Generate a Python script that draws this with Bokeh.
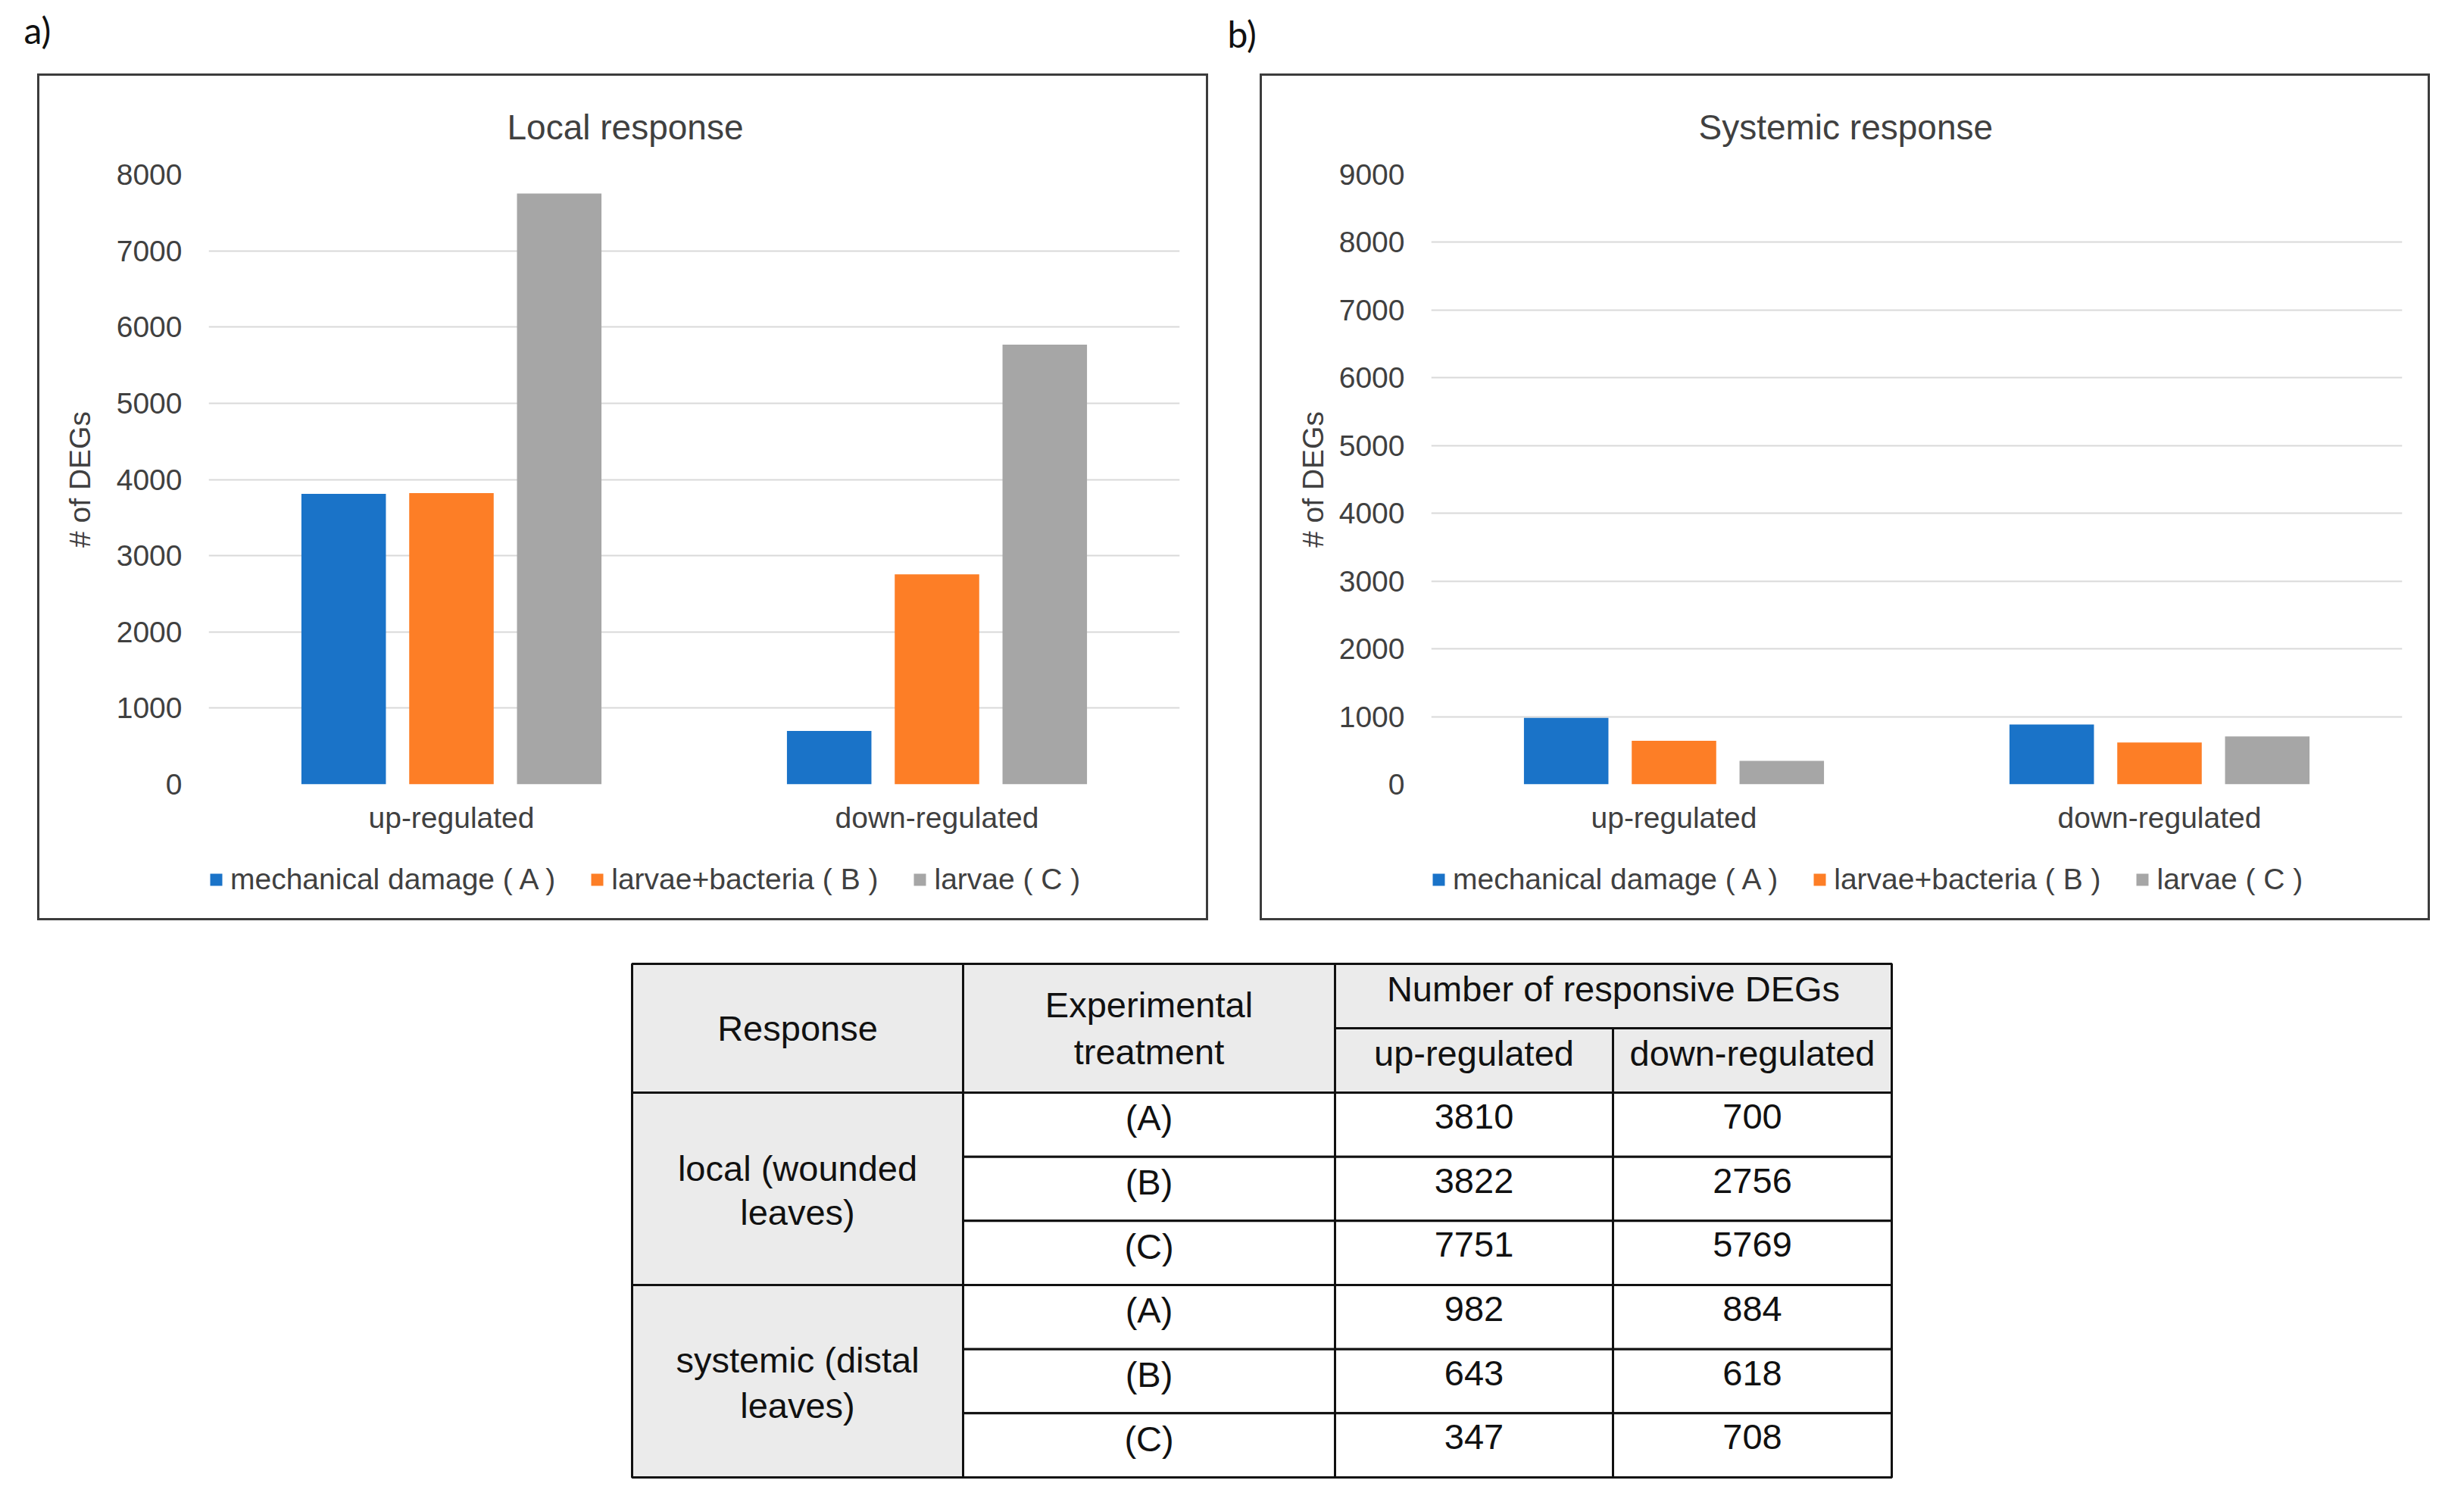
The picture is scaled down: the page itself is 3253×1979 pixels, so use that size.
from bokeh.plotting import figure
from bokeh.models import (ColumnDataSource, FactorRange, Range1d, Legend, LegendItem,
                          SingleIntervalTicker, Spacer)
from bokeh.layouts import column, row
from bokeh.transform import dodge
from bokeh.core.properties import value
from bokeh.embed import file_html
from bokeh.resources import INLINE

# ---------------- data ----------------
regulation = ["up-regulated", "down-regulated"]
treatments = ["mechanical damage ( A )", "larvae+bacteria ( B )", "larvae ( C )"]
treatment_codes = ["(A)", "(B)", "(C)"]
local_up = [3810, 3822, 7751]
local_down = [700, 2756, 5769]
systemic_up = [982, 643, 347]
systemic_down = [884, 618, 708]
local_ymax = 8000
systemic_ymax = 9000
y_step = 1000
panel_titles = ["Local response", "Systemic response"]
panel_tags = ["a)", "b)"]
y_label = "# of DEGs"
table_header = ["Response", "Experimental\ntreatment", "Number of responsive DEGs",
                "up-regulated", "down-regulated"]
response_groups = ["local (wounded\nleaves)", "systemic (distal\nleaves)"]

# ---------------- style ----------------
colors = ["#1A73C8", "#FD7E26", "#A6A6A6"]
FONT = "Liberation Sans"
TXT = "#404040"
LINE = "3px solid #3c3c3c"
FS = "39px"
CHART_H = 1010
LEG_H = 108


def chart(title, up, down, ymax, width, right_border, ylab_standoff, title_offset):
    src = ColumnDataSource(dict(reg=regulation,
                                A=[up[0], down[0]], B=[up[1], down[1]], C=[up[2], down[2]]))
    p = figure(x_range=FactorRange(factors=regulation, range_padding=0),
               y_range=Range1d(0, ymax), width=width, height=CHART_H,
               output_backend="svg", toolbar_location=None,
               min_border_left=223, min_border_right=right_border,
               min_border_top=130, min_border_bottom=75,
               styles={"border-top": LINE, "border-left": LINE, "border-right": LINE})
    p.outline_line_color = None
    p.background_fill_color = "white"
    p.border_fill_color = "white"
    for key, off, col in zip(["A", "B", "C"], [-0.222, 0.0, 0.222], colors):
        p.vbar(x=dodge("reg", off, range=p.x_range), top=key, width=0.174,
               source=src, fill_color=col, line_color=None)

    p.title.text = title
    p.title.align = "left"
    p.title.offset = title_offset
    p.title.text_font = FONT
    p.title.text_font_size = "46px"
    p.title.text_font_style = "normal"
    p.title.text_color = TXT
    p.title.standoff = 74

    p.xgrid.visible = False
    p.ygrid.grid_line_color = "#D9D9D9"
    p.ygrid.grid_line_width = 2

    xa = p.xaxis[0]
    xa.axis_line_color = None
    xa.major_tick_line_color = None
    xa.minor_tick_line_color = None
    xa.major_tick_out = 0
    xa.major_label_text_font = FONT
    xa.major_label_text_font_size = FS
    xa.major_label_text_color = TXT
    xa.major_label_standoff = 22

    ya = p.yaxis[0]
    ya.ticker = SingleIntervalTicker(interval=y_step, num_minor_ticks=0)
    ya.axis_line_color = None
    ya.major_tick_line_color = None
    ya.minor_tick_line_color = None
    ya.major_tick_out = 0
    ya.major_label_text_font = FONT
    ya.major_label_text_font_size = FS
    ya.major_label_text_color = TXT
    ya.major_label_standoff = 35
    ya.axis_label = y_label
    ya.axis_label_text_font = FONT
    ya.axis_label_text_font_size = FS
    ya.axis_label_text_font_style = "normal"
    ya.axis_label_text_color = TXT
    ya.axis_label_standoff = ylab_standoff
    return p


def legend_strip(width):
    q = figure(width=width, height=LEG_H, x_range=Range1d(0, 1), y_range=Range1d(0, 1),
               output_backend="svg", toolbar_location=None, min_border=0,
               styles={"border-bottom": LINE, "border-left": LINE, "border-right": LINE})
    q.axis.visible = False
    q.grid.visible = False
    q.outline_line_color = None
    # legend proxies: one bar each, placed outside the visible range
    rends = [q.vbar(x=[-1], top=[0], width=0.1, fill_color=col, line_color=None)
             for col in colors]
    legend = Legend(items=[LegendItem(label=value(t), renderers=[r])
                           for t, r in zip(treatments, rends)],
                    orientation="horizontal", location="left",
                    padding=0, margin=0, spacing=45, label_standoff=9,
                    glyph_width=20, glyph_height=20,
                    border_line_color=None, background_fill_alpha=0,
                    label_text_font=FONT, label_text_font_size=FS,
                    label_text_color=TXT)
    q.add_layout(legend)
    return q


pa = chart(panel_titles[0], local_up, local_down, local_ymax, 1546, 41, 24, 394)
pb = chart(panel_titles[1], systemic_up, systemic_down, systemic_ymax, 1545, 40, 10, 353)
la = legend_strip(1546)
lb = legend_strip(1545)

# ---------------- tags a) b) ----------------
TAGW, TAGH = 3240, 97
tags = figure(width=TAGW, height=TAGH, x_range=Range1d(0, TAGW), y_range=Range1d(TAGH, 0),
              output_backend="svg", toolbar_location=None, min_border=0)
tags.axis.visible = False
tags.grid.visible = False
tags.outline_line_color = None
tags.text(x=[31, 1620], y=[39, 44], text=panel_tags, text_font=value("Lato"),
          text_font_size="48px", text_color="#111111", text_baseline="alphabetic",
          text_align="left")

# ---------------- table ----------------
col_w = [437, 491, 367, 368]
head_h = [85, 85]
row_h = 84.67
OX, OY = 2, 2
TW, TH = 1668, 684
xs = [OX]
for w in col_w:
    xs.append(xs[-1] + w)
ys = [OY, OY + head_h[0], OY + head_h[0] + head_h[1]]
for i in range(6):
    ys.append(ys[2] + row_h * (i + 1))

tb = figure(width=TW, height=TH, x_range=Range1d(0, TW), y_range=Range1d(TH, 0),
            output_backend="svg", toolbar_location=None, min_border=0)
tb.axis.visible = False
tb.grid.visible = False
tb.outline_line_color = None

GRAY = "#EBEBEB"
cells = []  # (x0, x1, y0, y1, fill)
cells.append((xs[0], xs[1], ys[0], ys[2], GRAY))
cells.append((xs[1], xs[2], ys[0], ys[2], GRAY))
cells.append((xs[2], xs[4], ys[0], ys[1], GRAY))
cells.append((xs[2], xs[3], ys[1], ys[2], GRAY))
cells.append((xs[3], xs[4], ys[1], ys[2], GRAY))
cells.append((xs[0], xs[1], ys[2], ys[5], GRAY))
cells.append((xs[0], xs[1], ys[5], ys[8], GRAY))
for i in range(6):
    for c in range(1, 4):
        cells.append((xs[c], xs[c + 1], ys[2 + i], ys[3 + i], "white"))
tb.quad(left=[c[0] for c in cells], right=[c[1] for c in cells],
        bottom=[c[3] for c in cells], top=[c[2] for c in cells],
        fill_color=[c[4] for c in cells], line_color="#111111", line_width=3)

tx, ty, tt = [], [], []


def put(label, cx, cy, dy=0.0, spacing=62):
    lines = label.split("\n")
    n = len(lines)
    for k, ln in enumerate(lines):
        tx.append(cx)
        ty.append(cy + dy + (k - (n - 1) / 2) * spacing)
        tt.append(ln)


mid = lambda a, b: (a + b) / 2
put(table_header[0], mid(xs[0], xs[1]), mid(ys[0], ys[2]))
put(table_header[1], mid(xs[1], xs[2]), mid(ys[0], ys[2]))
put(table_header[2], mid(xs[2], xs[4]), mid(ys[0], ys[1]), -10)
put(table_header[3], mid(xs[2], xs[3]), mid(ys[1], ys[2]), -10)
put(table_header[4], mid(xs[3], xs[4]), mid(ys[1], ys[2]), -10)
put(response_groups[0], mid(xs[0], xs[1]), mid(ys[2], ys[5]), 2, 58)
put(response_groups[1], mid(xs[0], xs[1]), mid(ys[5], ys[8]), 2, 60)
ups = local_up + systemic_up
downs = local_down + systemic_down
for i in range(6):
    cy = mid(ys[2 + i], ys[3 + i])
    put(treatment_codes[i % 3], mid(xs[1], xs[2]), cy, -9)
    put(str(ups[i]), mid(xs[2], xs[3]), cy, -11)
    put(str(downs[i]), mid(xs[3], xs[4]), cy, -11)

tb.text(x=tx, y=ty, text=tt, text_font=value(FONT), text_font_size="47px",
        text_color="#111111", text_align="center", text_baseline="middle")

PANEL_H = CHART_H + LEG_H
layout = column(
    tags,
    row(Spacer(width=49, height=PANEL_H), column(pa, la),
        Spacer(width=68, height=PANEL_H), column(pb, lb)),
    Spacer(width=10, height=55),
    row(Spacer(width=832, height=TH), tb),
)

open("out.html", "w").write(file_html(layout, INLINE))
